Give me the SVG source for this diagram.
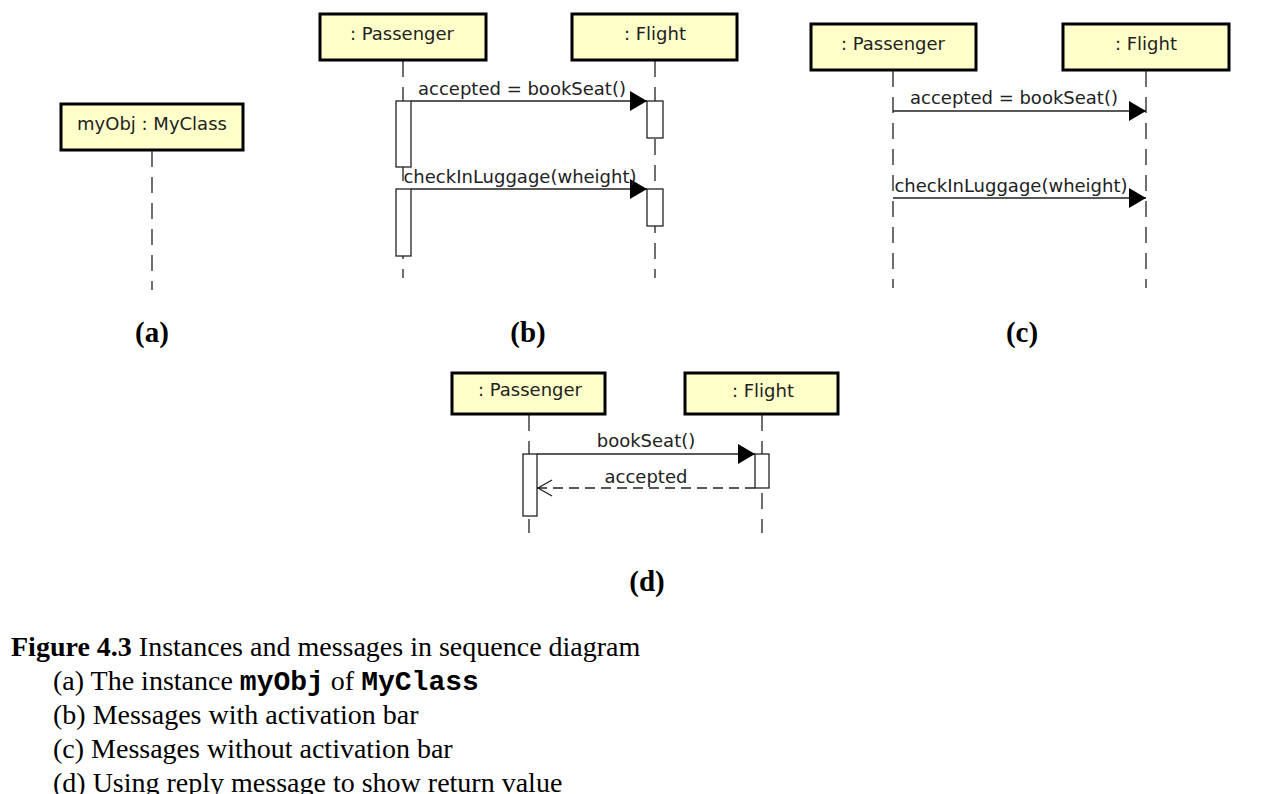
<svg xmlns="http://www.w3.org/2000/svg" width="1269" height="794" viewBox="0 0 1269 794">
<style>
.box{fill:#ffffca;stroke:#000;stroke-width:3}
.t{font-family:"DejaVu Sans",sans-serif;font-size:18px;fill:#222}
.life{stroke:#222;stroke-width:1.3;stroke-dasharray:16 10;fill:none}
.act{fill:#fff;stroke:#222;stroke-width:1.3}
.msg{stroke:#222;stroke-width:1.3;fill:none}
.rep{stroke:#222;stroke-width:1.3;fill:none;stroke-dasharray:10 6}
.lab{font-family:"Liberation Serif",serif;font-size:29px;font-weight:bold;fill:#000}
.cap{font-family:"Liberation Serif",serif;font-size:28px;fill:#000}
.mono{font-family:"Liberation Mono",monospace;font-weight:bold}
</style>
<defs>
<marker id="fill" markerWidth="17" markerHeight="20" refX="17" refY="10" orient="auto" markerUnits="userSpaceOnUse"><path d="M0,0 L17,10 L0,20 Z" fill="#000"/></marker>
<marker id="open" markerWidth="17" markerHeight="18" refX="16" refY="9" orient="auto" markerUnits="userSpaceOnUse"><path d="M1,1 L15,9 L1,17" fill="none" stroke="#222" stroke-width="1.3"/></marker>
</defs>
<rect width="1269" height="794" fill="#fff"/>

<!-- (a) -->
<g id="a-myObj">
<line class="life" x1="152" y1="151" x2="152" y2="290"/>
<rect class="box" x="61" y="104" width="182" height="46"/>
<text class="t" x="152" y="130" text-anchor="middle">myObj : MyClass</text>
</g>

<!-- (b) -->
<g id="b-passenger">
<line class="life" x1="403" y1="61" x2="403" y2="278"/>
<rect class="box" x="320" y="14" width="166" height="46"/>
<text class="t" x="402" y="40" text-anchor="middle">: Passenger</text>
<rect class="act" x="396" y="101" width="15" height="66"/>
<rect class="act" x="396" y="189" width="15" height="67"/>
</g>
<g id="b-flight">
<line class="life" x1="655" y1="61" x2="655" y2="278"/>
<rect class="box" x="572" y="14" width="165" height="46"/>
<text class="t" x="655" y="40" text-anchor="middle">: Flight</text>
<rect class="act" x="647" y="101" width="16" height="37"/>
<rect class="act" x="647" y="189" width="16" height="37"/>
</g>

<!-- (c) -->
<g id="c-passenger">
<line class="life" x1="893" y1="71" x2="893" y2="288"/>
<rect class="box" x="811" y="24" width="165" height="46"/>
<text class="t" x="893" y="50" text-anchor="middle">: Passenger</text>
</g>
<g id="c-flight">
<line class="life" x1="1146" y1="71" x2="1146" y2="288"/>
<rect class="box" x="1063" y="24" width="166" height="46"/>
<text class="t" x="1146" y="50" text-anchor="middle">: Flight</text>
</g>

<!-- (d) -->
<g id="d-passenger">
<line class="life" x1="529" y1="415" x2="529" y2="533"/>
<rect class="box" x="452" y="373" width="153" height="41"/>
<text class="t" x="530" y="396" text-anchor="middle">: Passenger</text>
<rect class="act" x="523" y="454" width="14" height="62"/>
</g>
<g id="d-flight">
<line class="life" x1="762" y1="415" x2="762" y2="533"/>
<rect class="box" x="685" y="373" width="153" height="41"/>
<text class="t" x="763" y="397" text-anchor="middle">: Flight</text>
<rect class="act" x="755" y="454" width="14" height="34"/>
</g>

<g id="connectors">
<line class="msg" x1="411" y1="101" x2="647" y2="101" marker-end="url(#fill)"/>
<text class="t" x="522" y="95" text-anchor="middle">accepted = bookSeat()</text>
<line class="msg" x1="411" y1="189" x2="647" y2="189" marker-end="url(#fill)"/>
<text class="t" x="520" y="183" text-anchor="middle">checkInLuggage(wheight)</text>

<line class="msg" x1="893" y1="111" x2="1146" y2="111" marker-end="url(#fill)"/>
<text class="t" x="1014" y="104" text-anchor="middle">accepted = bookSeat()</text>
<line class="msg" x1="893" y1="198" x2="1146" y2="198" marker-end="url(#fill)"/>
<text class="t" x="1011" y="192" text-anchor="middle">checkInLuggage(wheight)</text>

<line class="msg" x1="537" y1="454" x2="755" y2="454" marker-end="url(#fill)"/>
<text class="t" x="646" y="447" text-anchor="middle">bookSeat()</text>
<line class="rep" x1="755" y1="488" x2="537" y2="488" marker-end="url(#open)"/>
<text class="t" x="646" y="483" text-anchor="middle">accepted</text>
</g>

<text class="lab" x="152" y="342" text-anchor="middle">(a)</text>
<text class="lab" x="528" y="342" text-anchor="middle">(b)</text>
<text class="lab" x="1022" y="342" text-anchor="middle">(c)</text>
<text class="lab" x="647" y="591" text-anchor="middle">(d)</text>

<text class="cap" x="11" y="656"><tspan font-weight="bold">Figure 4.3</tspan> Instances and messages in sequence diagram</text>
<text class="cap" x="53" y="690">(a) The instance <tspan class="mono">myObj</tspan> of <tspan class="mono">MyClass</tspan></text>
<text class="cap" x="53" y="724">(b) Messages with activation bar</text>
<text class="cap" x="53" y="758">(c) Messages without activation bar</text>
<text class="cap" x="53" y="792">(d) Using reply message to show return value</text>
</svg>
